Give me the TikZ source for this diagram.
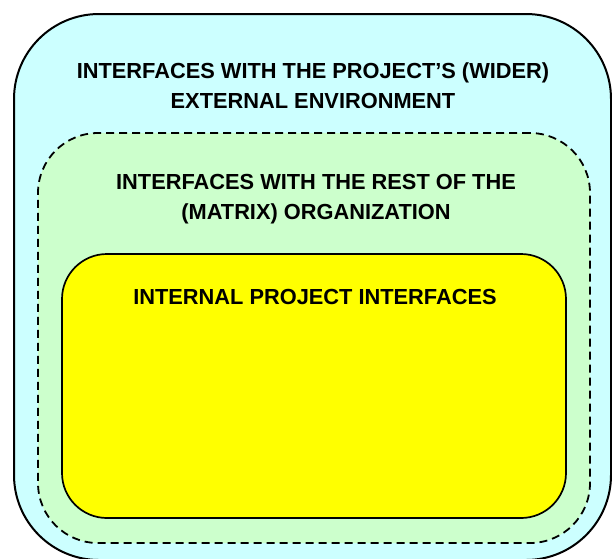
\documentclass[tikz,border=0pt]{standalone}
\usepackage{fontspec}
\setmainfont{Liberation Sans}
\usepackage{tikz}
\usepackage{xcolor}
\usetikzlibrary{positioning, calc}
\definecolor{cExt}   {HTML}{CCFFFF}
\definecolor{cOrg}   {HTML}{CCFFCC}
\definecolor{cInt}   {HTML}{FFFF00}
\definecolor{cText}  {HTML}{000000}

\tikzset{
  layerbox/.style={draw=black, rectangle, inner sep=0pt},
  layertitle/.style={font=\bfseries\fontsize{21.8}{30}\selectfont, text=cText,
                     align=center, inner sep=0pt},
}

\begin{document}
\begin{tikzpicture}[x=1pt, y=-1pt]
  \useasboundingbox (0,0) rectangle (612,558);
  \clip (0,0) rectangle (612,558);
  % nested interface layers, outside in
  \node[layerbox, fill=cExt, line width=2pt, rounded corners=85pt,
        minimum width=597pt, minimum height=546pt] (ext) at (312.5,287) {};
  \node[layerbox, fill=cOrg, line width=1.8pt, dash pattern=on 8pt off 5pt,
        rounded corners=60pt, minimum width=552pt, minimum height=410pt] (org) at (314,338) {};
  \node[layerbox, fill=cInt, line width=1.7pt, rounded corners=45pt,
        minimum width=504pt, minimum height=264pt] (int) at (314,386) {};
  % layer titles
  \node[layertitle] (extT) at (313,86) {INTERFACES WITH THE PROJECT’S (WIDER)\\EXTERNAL ENVIRONMENT};
  \node[layertitle] (orgT) at (316,199) {INTERFACES WITH THE REST OF THE\\(MATRIX) ORGANIZATION};
  \node[layertitle] (intT) at (315,297) {INTERNAL PROJECT INTERFACES};
\end{tikzpicture}
\end{document}
